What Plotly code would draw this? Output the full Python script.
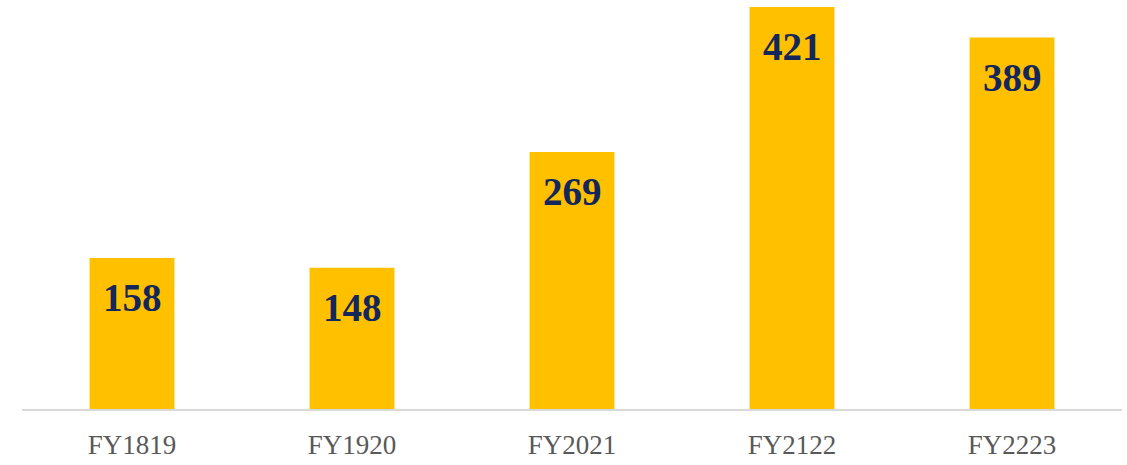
import plotly.graph_objects as go

years = ['FY1819', 'FY1920', 'FY2021', 'FY2122', 'FY2223']
counts = [158, 148, 269, 421, 389]

fig = go.Figure()
fig.add_trace(go.Bar(x=years, y=counts, marker=dict(color='#FFC000', line=dict(width=0)),
                     hoverinfo='x+y'))

for yr, c in zip(years, counts):
    fig.add_annotation(x=yr, y=c, text=str(c), showarrow=False, yanchor='top', yshift=-16,
                       font=dict(family='Liberation Serif, serif', size=39, color='#13275C', weight='bold'))

fig.update_layout(
        width=1127, height=465,
        margin={"r":5, "t":0, "l":22, "b":56},
        paper_bgcolor='white',
        plot_bgcolor='white',
        bargap=0.614,
        showlegend=False,
)
fig.update_xaxes(showline=True, linecolor='#D9D9D9', linewidth=2, ticks='', ticklabelstandoff=11,
                 tickfont=dict(family='Liberation Serif, serif', size=27, color='#595959'))
fig.update_yaxes(visible=False, range=[0, 428.3])
# page body has a default 8px margin, drop it so the figure sits at the corner
fig.write_html("out.html", config={'displayModeBar': False},
               post_script="document.body.style.margin='0';")
